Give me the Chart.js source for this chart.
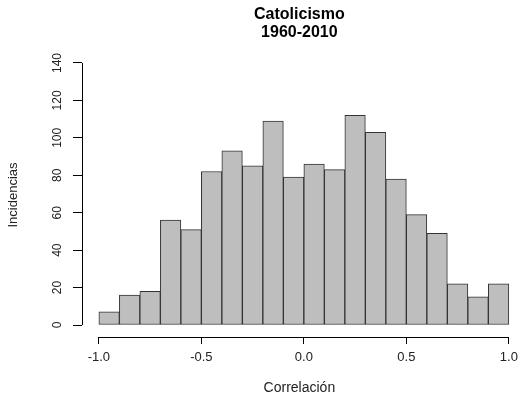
<!DOCTYPE html>
<html lang="es">
<head>
  <meta charset="UTF-8">
  <title>Catolicismo 1960-2010</title>
  <script src="https://cdn.jsdelivr.net/npm/chart.js"></script>
  <style>
    body {
      margin: 0;
      padding: 0;
      background-color: #fff;
    }
    canvas {
      display: block;
    }
  </style>
</head>
<body>
  <canvas id="histChart" width="524" height="399"></canvas>

  <script>
    // Klassenmitten (Breite 0.1) und Häufigkeiten
    const binCenters = [-0.95, -0.85, -0.75, -0.65, -0.55, -0.45, -0.35, -0.25, -0.15, -0.05,
                        0.05, 0.15, 0.25, 0.35, 0.45, 0.55, 0.65, 0.75, 0.85, 0.95];
    const counts = [7, 16, 18, 56, 51, 82, 93, 85, 109, 79,
                    86, 83, 112, 103, 78, 59, 49, 22, 15, 22];
    const xTicks = [-1.0, -0.5, 0.0, 0.5, 1.0];
    const yTicks = [0, 20, 40, 60, 80, 100, 120, 140];

    const textFont = 'Liberation Sans, Arial, sans-serif';

    // Achsenlinien im R-Stil: nur vom ersten bis zum letzten Tick
    const rAxes = {
      id: 'rAxes',
      afterDraw(chart) {
        const { ctx, chartArea, scales } = chart;
        ctx.save();
        ctx.strokeStyle = '#000';
        ctx.lineWidth = 1;
        ctx.beginPath();
        const x0 = scales.x.getPixelForValue(xTicks[0]);
        const x1 = scales.x.getPixelForValue(xTicks[xTicks.length - 1]);
        const yb = Math.round(chartArea.bottom) + 0.5;
        ctx.moveTo(x0, yb);
        ctx.lineTo(x1, yb);
        const y0 = scales.y.getPixelForValue(yTicks[0]);
        const y1 = scales.y.getPixelForValue(yTicks[yTicks.length - 1]);
        const xl = Math.round(chartArea.left) + 0.5;
        ctx.moveTo(xl, y0);
        ctx.lineTo(xl, y1);
        ctx.stroke();
        ctx.restore();
      }
    };

    const ctx = document.getElementById('histChart').getContext('2d');
    const histChart = new Chart(ctx, {
      type: 'bar',
      data: {
        datasets: [{
          data: binCenters.map((c, i) => ({ x: c, y: counts[i] })),
          backgroundColor: '#bebebe',
          borderColor: '#333',
          borderWidth: 1,
          borderSkipped: false,
          barPercentage: 1,
          categoryPercentage: 1
        }]
      },
      options: {
        responsive: false,
        animation: false,
        layout: { padding: { left: 0, right: 4, top: 0, bottom: 0 } },
        plugins: {
          legend: { display: false },
          tooltip: { enabled: false },
          title: {
            display: true,
            fullSize: false,
            text: ['Catolicismo', '1960-2010'],
            color: '#000',
            font: { family: textFont, size: 16, weight: 'bold', lineHeight: 1.125 },
            padding: { top: 6, bottom: 11 }
          }
        },
        scales: {
          x: {
            type: 'linear',
            min: -1.0823,
            max: 1.0387,
            offset: false,
            afterBuildTicks: (scale) => { scale.ticks = xTicks.map(v => ({ value: v })); },
            afterFit: (scale) => { scale.height = 62; },
            border: { display: false },
            grid: { display: true, drawOnChartArea: false, offset: false, color: '#000', tickLength: 7 },
            ticks: {
              color: '#222',
              padding: 6,
              maxRotation: 0,
              font: { family: textFont, size: 13 },
              callback: (v) => Number(v).toFixed(1)
            },
            title: {
              display: true,
              text: 'Correlación',
              color: '#222',
              font: { family: textFont, size: 14 },
              padding: { top: 4, bottom: 2 }
            }
          },
          y: {
            min: -6.41,
            max: 145.34,
            afterBuildTicks: (scale) => { scale.ticks = yTicks.map(v => ({ value: v })); },
            afterFit: (scale) => { scale.width = 82; },
            border: { display: false },
            grid: { display: true, drawOnChartArea: false, color: '#000', tickLength: 9 },
            ticks: {
              color: '#222',
              padding: 5,
              minRotation: 90,
              maxRotation: 90,
              crossAlign: 'center',
              font: { family: textFont, size: 12 }
            },
            title: {
              display: true,
              text: 'Incidencias',
              color: '#222',
              font: { family: textFont, size: 13 },
              padding: { top: 6, bottom: 4 }
            }
          }
        }
      },
      plugins: [rAxes]
    });
  </script>
</body>
</html>
